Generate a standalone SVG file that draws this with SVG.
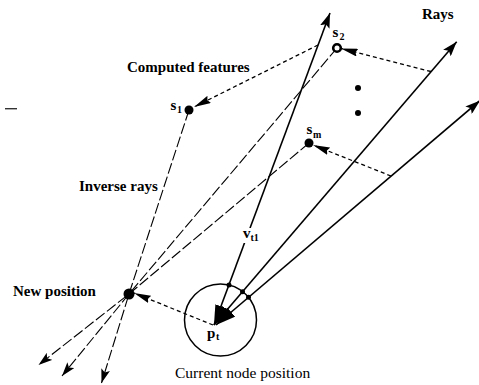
<svg xmlns="http://www.w3.org/2000/svg" width="479" height="385" viewBox="0 0 479 385">
<defs>
<style>
.lbl{font-family:"Liberation Serif","Times New Roman",serif;font-size:15px;font-weight:bold;fill:#000}
.reg{font-family:"Liberation Serif","Times New Roman",serif;font-size:15.5px;fill:#000}
.sub{font-family:"Liberation Serif","Times New Roman",serif;font-size:10px;font-weight:bold;fill:#000}
.ray{stroke:#000;stroke-width:1.6;fill:none}
.proj{stroke:#000;stroke-width:1.3;fill:none;stroke-dasharray:4 3}
.inv{stroke:#000;stroke-width:1.1;fill:none;stroke-dasharray:11 3}
.node{fill:#000}
</style>
<marker id="hd" markerUnits="userSpaceOnUse" viewBox="0 0 15 10" markerWidth="15" markerHeight="10" refX="15" refY="5" orient="auto">
<path d="M0,0 L15,5 L0,10 L3,5 z" fill="#000"/>
</marker>
<marker id="big" markerUnits="userSpaceOnUse" viewBox="0 0 20 12" markerWidth="20" markerHeight="12" refX="20" refY="6" orient="auto-start-reverse">
<path d="M0,0 L20,6 L0,12 z" fill="#000"/>
</marker>
<marker id="ph" markerUnits="userSpaceOnUse" viewBox="0 0 17 8" markerWidth="17" markerHeight="8" refX="17" refY="4" orient="auto">
<path d="M0,0 L17,4 L0,8 L2,4 z" fill="#000"/>
</marker>
<marker id="ih" markerUnits="userSpaceOnUse" viewBox="0 0 14 9" markerWidth="14" markerHeight="9" refX="14" refY="4.5" orient="auto">
<path d="M0,0 L14,4.5 L0,9 L3,4.5 z" fill="#000"/>
</marker>
</defs>
<rect width="479" height="385" fill="#fff"/>
<rect x="5" y="108" width="12" height="1.4" fill="#333"/>
<g id="connectors">
<path class="ray" d="M214,325 L330,13" marker-start="url(#big)" marker-end="url(#hd)"/>
<path class="ray" d="M214,325 L456.7,41.7" marker-start="url(#big)" marker-end="url(#hd)"/>
<path class="ray" d="M216,325 L480,100.5" marker-start="url(#big)" marker-end="url(#hd)"/>
<path class="proj" d="M318,45 L194,107" marker-end="url(#ph)"/>
<path class="proj" d="M431,71.5 L341,48.5" marker-end="url(#ph)"/>
<path class="proj" d="M391,176 L313,145" marker-end="url(#ph)"/>
<path class="proj" d="M213,325 L134,293" marker-end="url(#ph)"/>
<path class="inv" d="M189,110 L129,294 L101.5,383" stroke-dasharray="6 2" marker-end="url(#ih)"/>
<path class="inv" d="M337,48 L129,294 L62,376" marker-end="url(#ih)"/>
<path class="inv" d="M309,143 L129,294 L38.5,365" marker-end="url(#ih)"/>
</g>
<g id="current-node">
<circle cx="220.5" cy="320" r="36" fill="none" stroke="#000" stroke-width="1.5"/>
<circle cx="229" cy="285" r="2.5" class="node"/>
<circle cx="242.5" cy="291.7" r="2.5" class="node"/>
<circle cx="248.5" cy="297.3" r="2.5" class="node"/>
<text class="lbl" x="207" y="338" font-size="13">p</text>
<text class="sub" x="216" y="340">t</text>
<text class="reg" x="175" y="378">Current node position</text>
</g>
<g id="v-label">
<rect x="241" y="228" width="19" height="15" fill="#fff"/>
<text class="lbl" x="243" y="238" font-size="12">v</text>
<text class="sub" x="250.5" y="241">t1</text>
</g>
<g id="s1">
<circle cx="189" cy="110" r="4.5" class="node"/>
<text class="lbl" x="170.5" y="110" font-size="13">s</text>
<text class="sub" x="177" y="113">1</text>
</g>
<g id="s2">
<circle cx="337" cy="48" r="3.8" fill="#fff" stroke="#000" stroke-width="2.6"/>
<text class="lbl" x="332.5" y="36.5" font-size="13">s</text>
<text class="sub" x="339.5" y="40">2</text>
</g>
<g id="sm">
<circle cx="309" cy="143" r="4.5" class="node"/>
<text class="lbl" x="306.5" y="134" font-size="13">s</text>
<text class="sub" x="313" y="138">m</text>
</g>
<g id="dots">
<circle cx="358" cy="88" r="3" class="node"/>
<circle cx="358" cy="113" r="3" class="node"/>
</g>
<g id="new-position">
<circle cx="129" cy="294" r="5.5" class="node"/>
<text class="lbl" x="13" y="296">New position</text>
</g>
<g id="labels">
<text class="lbl" x="127" y="72">Computed features</text>
<text class="lbl" x="422" y="19">Rays</text>
<text class="lbl" x="79" y="191">Inverse rays</text>
</g>
</svg>
